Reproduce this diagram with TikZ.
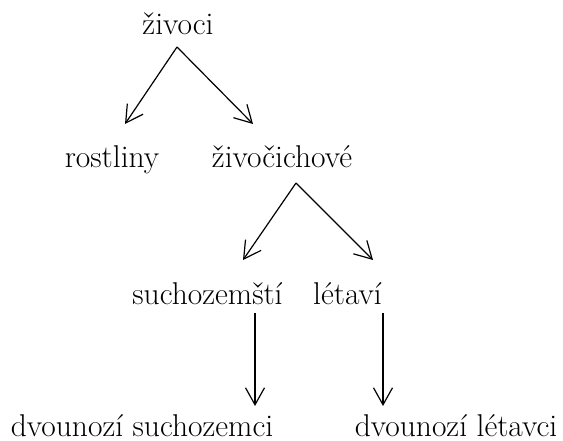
\documentclass[tikz,border=0pt]{standalone}
\usetikzlibrary{arrows.meta}
\begin{document}
\begin{tikzpicture}[x=1pt,y=-1pt,
  lbl/.style={anchor=base,inner sep=0pt,font=\fontsize{31.5}{36}\selectfont},
  arr/.style={line width=1.2pt,-{Straight Barb[length=17pt,width=19pt,line width=1.2pt]}}]
\useasboundingbox (0,0) rectangle (563,441);
\node[lbl] (zivoci) at (178,35) {živoci};
\node[lbl] (rostliny) at (112,168) {rostliny};
\node[lbl] (zivocichove) at (282,168) {živočichové};
\node[lbl] (sucho) at (207.5,305) {suchozemští};
\node[lbl] (letavi) at (347.5,305) {létaví};
\node[lbl] (dsucho) at (142,436) {dvounozí suchozemci};
\node[lbl] (dletavci) at (456,436) {dvounozí létavci};
\coordinate (a0) at (177,47);
\coordinate (a1) at (125,124);
\coordinate (a2) at (253,124);
\coordinate (b0) at (296,183);
\coordinate (b1) at (243,260);
\coordinate (b2) at (373,260);
\coordinate (c0) at (255,313);
\coordinate (c1) at (255,406);
\coordinate (d0) at (383,313);
\coordinate (d1) at (383,406);
\draw[arr] (a0) -- (a1);
\draw[arr] (a0) -- (a2);
\draw[arr] (b0) -- (b1);
\draw[arr] (b0) -- (b2);
\draw[arr] (c0) -- (c1);
\draw[arr] (d0) -- (d1);
\end{tikzpicture}
\end{document}
